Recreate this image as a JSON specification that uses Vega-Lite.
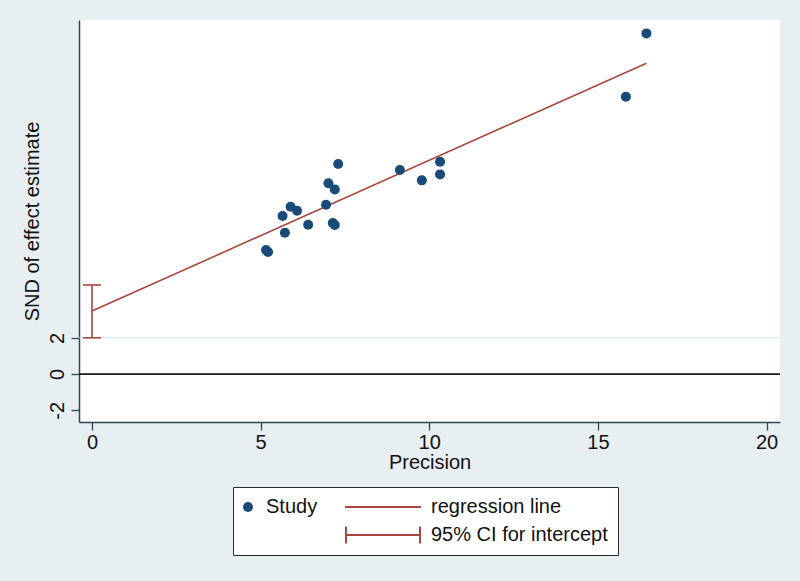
{
  "$schema": "https://vega.github.io/schema/vega-lite/v6.json",
  "width": 701,
  "height": 402,
  "autosize": {"type": "none"},
  "padding": {"left": 79, "top": 20, "right": 20, "bottom": 159},
  "background": "#e8eff3",
  "config": {
    "font": "Liberation Sans",
    "view": {"fill": "white", "stroke": null},
    "axis": {
      "domainColor": "#2f4550",
      "domainWidth": 1.5,
      "tickColor": "#2f4550",
      "tickWidth": 1.3,
      "tickSize": 8,
      "labelFont": "Liberation Sans",
      "labelFontSize": 20,
      "labelColor": "#111111",
      "titleFont": "Liberation Sans",
      "titleFontSize": 20,
      "titleFontWeight": "normal",
      "titleColor": "#111111",
      "grid": false
    }
  },
  "datasets": {
    "studies": [
      {"x": 5.16, "y": 6.85},
      {"x": 5.22, "y": 6.74},
      {"x": 5.72, "y": 7.81},
      {"x": 5.65, "y": 8.73},
      {"x": 5.89, "y": 9.24},
      {"x": 6.08, "y": 9.02},
      {"x": 6.41, "y": 8.25},
      {"x": 6.94, "y": 9.35},
      {"x": 7.01, "y": 10.54},
      {"x": 7.2, "y": 10.2},
      {"x": 7.3, "y": 11.6},
      {"x": 7.14, "y": 8.34},
      {"x": 7.2, "y": 8.23},
      {"x": 9.13, "y": 11.27},
      {"x": 9.78, "y": 10.7},
      {"x": 10.32, "y": 11.73},
      {"x": 10.32, "y": 11.03},
      {"x": 15.83, "y": 15.32},
      {"x": 16.44, "y": 18.82}
    ],
    "regression": [
      {"x": 0, "y": 3.48},
      {"x": 16.44, "y": 17.17}
    ],
    "ci": [
      {"x": 0, "lo": 2.0, "hi": 4.92}
    ],
    "caps": [
      {"x": 0, "y": 2.0},
      {"x": 0, "y": 4.92}
    ],
    "legendItems": [
      {"series": "Study"},
      {"series": "regression line"},
      {"series": " "},
      {"series": "95% CI for intercept"}
    ]
  },
  "layer": [
    {
      "data": {"values": [{"y": 2}]},
      "mark": {"type": "rule", "color": "#d3e2ec", "strokeWidth": 1},
      "encoding": {
        "y": {"field": "y", "type": "quantitative"}
      }
    },
    {
      "data": {"values": [{"y": 0}]},
      "mark": {"type": "rule", "color": "#1a1a1a", "strokeWidth": 1.8},
      "encoding": {
        "y": {"field": "y", "type": "quantitative"}
      }
    },
    {
      "data": {"name": "regression"},
      "mark": {"type": "line", "color": "#a8473e", "strokeWidth": 1.6},
      "encoding": {
        "x": {"field": "x", "type": "quantitative"},
        "y": {"field": "y", "type": "quantitative"}
      }
    },
    {
      "data": {"name": "ci"},
      "mark": {"type": "rule", "color": "#a8473e", "strokeWidth": 1.6},
      "encoding": {
        "x": {"field": "x", "type": "quantitative"},
        "y": {"field": "lo", "type": "quantitative"},
        "y2": {"field": "hi"}
      }
    },
    {
      "data": {"name": "caps"},
      "mark": {"type": "tick", "orient": "horizontal", "color": "#a8473e", "size": 18, "thickness": 1.6, "opacity": 1},
      "encoding": {
        "x": {"field": "x", "type": "quantitative"},
        "y": {"field": "y", "type": "quantitative"}
      }
    },
    {
      "data": {"name": "studies"},
      "mark": {"type": "point", "filled": true, "size": 100, "opacity": 1, "color": "#1a4a78"},
      "encoding": {
        "x": {
          "field": "x",
          "type": "quantitative",
          "scale": {"domain": [-0.385, 20.4], "nice": false, "zero": false},
          "axis": {"values": [0, 5, 10, 15, 20], "title": "Precision", "labelPadding": 2, "titlePadding": 0}
        },
        "y": {
          "field": "y",
          "type": "quantitative",
          "scale": {"domain": [-2.65, 19.56], "nice": false, "zero": false},
          "axis": {"values": [-2, 0, 2], "labelExpr": "'' + datum.value", "title": "SND of effect estimate", "labelAngle": -90, "labelPadding": 4, "titlePadding": 5}
        }
      }
    },
    {
      "data": {"name": "legendItems"},
      "mark": {"type": "point", "filled": true, "opacity": 1},
      "encoding": {
        "x": {"field": "x", "type": "quantitative"},
        "y": {"field": "y", "type": "quantitative"},
        "color": {
          "field": "series",
          "type": "nominal",
          "scale": {
            "domain": ["Study", "regression line", " ", "95% CI for intercept"],
            "range": ["#1a4a78", "#a8473e", "transparent", "#a8473e"]
          },
          "legend": {
            "title": null,
            "orient": "none",
            "legendX": 154,
            "legendY": 467,
            "direction": "horizontal",
            "columns": 2,
            "columnPadding": 27,
            "rowPadding": 8,
            "padding": 10,
            "fillColor": "white",
            "strokeColor": "#2a2a2a",
            "symbolSize": 100,
            "symbolOffset": -5,
            "symbolStrokeWidth": 0,
            "symbolOpacity": 1,
            "labelOffset": 8,
            "labelFont": "Liberation Sans",
            "labelFontSize": 20,
            "labelColor": "#111111",
            "labelLimit": 400
          }
        },
        "shape": {
          "field": "series",
          "type": "nominal",
          "scale": {
            "domain": ["Study", "regression line", " ", "95% CI for intercept"],
            "range": [
              "circle",
              "M-13.6,-0.2H1.6V0.2H-13.6Z",
              "circle",
              "M-13.6,-1.7H-13.2V-0.2H1.2V-1.7H1.6V1.7H1.2V0.2H-13.2V1.7H-13.6Z"
            ]
          },
          "legend": {
            "title": null,
            "orient": "none",
            "legendX": 154,
            "legendY": 467,
            "direction": "horizontal",
            "columns": 2,
            "columnPadding": 27,
            "rowPadding": 8,
            "padding": 10,
            "fillColor": "white",
            "strokeColor": "#2a2a2a",
            "symbolSize": 100,
            "symbolOffset": -5,
            "symbolStrokeWidth": 0,
            "symbolOpacity": 1,
            "labelOffset": 8,
            "labelFont": "Liberation Sans",
            "labelFontSize": 20,
            "labelColor": "#111111",
            "labelLimit": 400
          }
        }
      }
    }
  ]
}
